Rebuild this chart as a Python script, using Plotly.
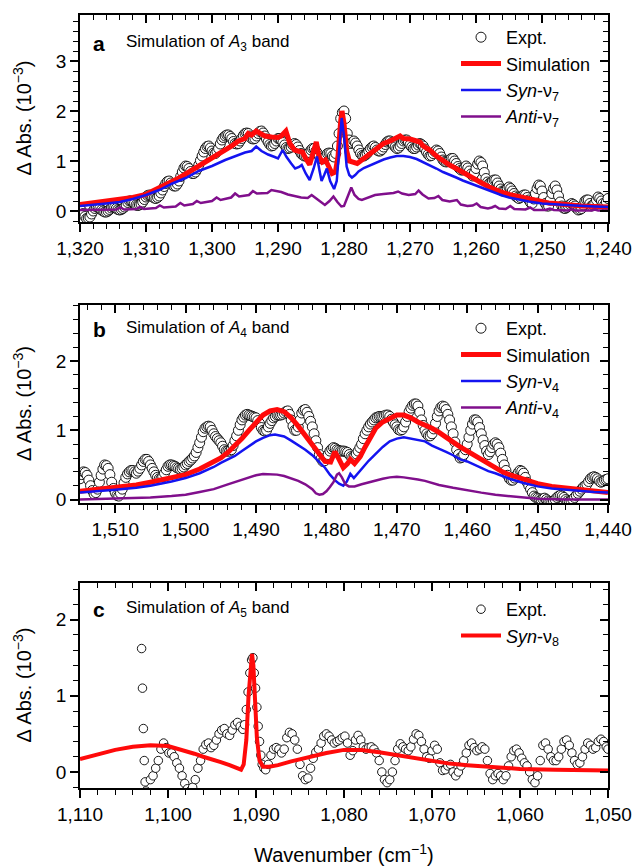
import plotly.graph_objects as go

# ---------------- Panel a (A3 band) ----------------
wn_a_expt = [1320 - 0.25 * i for i in range(321)]
abs_a_expt = [
    0.05, 0.0, -0.05, -0.11, -0.15, -0.14, -0.12, -0.06, 0.0, 0.05, 0.08, 0.07, 0.05, 0.02, 0.0, -0.02, -0.02, 0.0, 0.03, 0.06,
    0.08, 0.07, 0.05, 0.03, 0.02, 0.03, 0.05, 0.08, 0.12, 0.17, 0.2, 0.2, 0.18, 0.15, 0.12, 0.11, 0.12, 0.14, 0.18, 0.23,
    0.28, 0.31, 0.32, 0.3, 0.28, 0.26, 0.25, 0.27, 0.3, 0.36, 0.42, 0.49, 0.55, 0.59, 0.6, 0.56, 0.52, 0.5, 0.5, 0.54,
    0.6, 0.69, 0.78, 0.86, 0.9, 0.89, 0.85, 0.79, 0.75, 0.75, 0.78, 0.84, 0.92, 1.01, 1.1, 1.18, 1.25, 1.29, 1.3, 1.26,
    1.2, 1.16, 1.15, 1.19, 1.25, 1.34, 1.42, 1.47, 1.5, 1.52, 1.52, 1.49, 1.45, 1.39, 1.35, 1.34, 1.35, 1.4, 1.45, 1.51,
    1.55, 1.56, 1.55, 1.5, 1.45, 1.44, 1.45, 1.5, 1.55, 1.59, 1.6, 1.56, 1.5, 1.44, 1.38, 1.33, 1.3, 1.31, 1.35, 1.4,
    1.45, 1.45, 1.42, 1.37, 1.32, 1.27, 1.25, 1.26, 1.28, 1.32, 1.35, 1.33, 1.28, 1.21, 1.15, 1.12, 1.1, 1.1, 1.12, 1.17,
    1.22, 1.25, 1.25, 1.2, 1.15, 1.09, 1.05, 1.04, 1.05, 1.1, 1.15, 1.16, 1.15, 1.1, 1.08, 1.15, 1.3, 1.55, 1.85, 1.97,
    2.0, 1.85, 1.55, 1.42, 1.35, 1.37, 1.4, 1.36, 1.3, 1.22, 1.15, 1.11, 1.1, 1.12, 1.15, 1.2, 1.25, 1.28, 1.3, 1.27,
    1.22, 1.2, 1.2, 1.23, 1.28, 1.33, 1.38, 1.4, 1.4, 1.37, 1.32, 1.28, 1.25, 1.26, 1.3, 1.35, 1.4, 1.42, 1.42, 1.38,
    1.32, 1.28, 1.25, 1.25, 1.28, 1.32, 1.35, 1.33, 1.3, 1.24, 1.18, 1.13, 1.1, 1.11, 1.15, 1.19, 1.22, 1.2, 1.15, 1.08,
    1.02, 0.99, 0.98, 0.99, 1.02, 1.05, 1.05, 1.0, 0.95, 0.89, 0.85, 0.82, 0.82, 0.86, 0.9, 0.86, 0.8, 0.74, 0.7, 0.76,
    0.85, 0.94, 1.0, 0.97, 0.9, 0.77, 0.65, 0.58, 0.55, 0.57, 0.6, 0.62, 0.62, 0.56, 0.5, 0.44, 0.4, 0.4, 0.42, 0.45,
    0.48, 0.45, 0.4, 0.35, 0.3, 0.27, 0.25, 0.27, 0.3, 0.32, 0.32, 0.27, 0.22, 0.17, 0.15, 0.24, 0.35, 0.45, 0.52, 0.5,
    0.4, 0.27, 0.15, 0.1, 0.1, 0.22, 0.35, 0.45, 0.5, 0.42, 0.3, 0.18, 0.1, 0.06, 0.05, 0.07, 0.1, 0.13, 0.15, 0.13,
    0.1, 0.05, 0.02, 0.03, 0.05, 0.12, 0.2, 0.22, 0.22, 0.15, 0.1, 0.12, 0.15, 0.22, 0.28, 0.25, 0.2, 0.15, 0.12, 0.18,
    0.25,
]

wn_a_sim = [1320, 1318, 1316, 1314, 1313, 1312, 1311, 1310, 1309, 1308, 1307, 1306, 1305,
            1304, 1303, 1302, 1301, 1300, 1299, 1298, 1297, 1296, 1295, 1294.5, 1294,
            1293.3, 1292.5, 1292, 1291, 1290, 1289.5, 1288.8, 1288.2, 1287.5, 1287, 1286.3,
            1285.8, 1285.2, 1284.6, 1284.2, 1283.8, 1283.3, 1282.8, 1282.3, 1281.8, 1281.3,
            1280.9, 1280.5, 1280.3, 1280.0, 1279.6, 1279.2, 1278.6, 1278, 1277.5, 1277, 1276,
            1275, 1274, 1273, 1272, 1271.5, 1271, 1270, 1269, 1268.5, 1268, 1267, 1266, 1265,
            1264, 1263, 1262, 1261, 1260, 1259, 1258, 1257, 1256, 1255, 1254, 1253, 1252,
            1251, 1250, 1249, 1248, 1246, 1244, 1242, 1240]
abs_a_sim = [0.13, 0.16, 0.19, 0.22, 0.26, 0.27, 0.3, 0.33, 0.4, 0.46, 0.52, 0.6, 0.66,
             0.74, 0.82, 0.9, 0.98, 1.04, 1.12, 1.22, 1.3, 1.4, 1.45, 1.55, 1.52,
             1.6, 1.55, 1.5, 1.48, 1.47, 1.5, 1.6, 1.35, 1.22, 1.2, 1.18,
             1.05, 0.93, 1.2, 1.38, 1.1, 0.98, 1.02, 0.88, 0.75, 0.78,
             1.1, 1.8, 2.0, 1.75, 1.2, 1.0, 0.98, 0.95, 1.0, 1.05, 1.15,
             1.25, 1.35, 1.4, 1.48, 1.5, 1.45, 1.44, 1.4, 1.38, 1.3, 1.22, 1.1, 1.0,
             0.92, 0.85, 0.77, 0.7, 0.62, 0.55, 0.48, 0.42, 0.37, 0.33, 0.3, 0.26, 0.23,
             0.2, 0.18, 0.16, 0.15, 0.12, 0.1, 0.09, 0.08]

wn_a_syn = [1320, 1318, 1316, 1314, 1312, 1310, 1308, 1306, 1304, 1302, 1300, 1298, 1296,
            1295, 1294, 1293.3, 1292.5, 1291.5, 1290.5, 1290, 1289.3, 1288.7, 1288, 1287.4,
            1286.8, 1286.4, 1285.8, 1285.2, 1284.6, 1284.1, 1283.7, 1283.4, 1283, 1282.6,
            1282.1, 1281.5, 1281.1, 1280.7, 1280.35, 1280.0, 1279.6, 1279.2, 1278.8, 1278.3,
            1277.8, 1277, 1276, 1275, 1274, 1273, 1272, 1271, 1270, 1269, 1268, 1267, 1266,
            1265, 1264, 1263, 1262, 1261, 1260, 1259, 1258, 1257, 1256, 1255, 1254, 1253,
            1252, 1250, 1248, 1245, 1242, 1240]
abs_a_syn = [0.1, 0.12, 0.15, 0.18, 0.24, 0.32, 0.42, 0.55, 0.66, 0.8, 0.9, 1.02, 1.12,
             1.17, 1.2, 1.29, 1.2, 1.13, 1.08, 1.05, 1.22, 1.08, 0.95, 0.85,
             0.88, 0.92, 0.75, 0.62, 0.85, 1.09, 0.8, 0.6, 0.72, 0.85,
             0.6, 0.44, 0.6, 1.3, 1.86, 1.5, 0.89, 0.72, 0.67, 0.72,
             0.79, 0.86, 0.92, 0.98, 1.03, 1.07, 1.1, 1.1, 1.08, 1.04, 0.98, 0.92, 0.85,
             0.78, 0.73, 0.67, 0.61, 0.56, 0.51, 0.46, 0.4, 0.36, 0.31, 0.27, 0.24, 0.21,
             0.19, 0.15, 0.13, 0.11, 0.09, 0.08]

wn_a_anti = [1320, 1318, 1316, 1314.5, 1313.9, 1313.3, 1311.5, 1310.9, 1310.3, 1308.5, 1307.9,
             1307.3, 1305.5, 1304.8, 1304.2, 1302.9, 1302.3, 1301.7, 1300, 1299.3, 1298.7,
             1297.1, 1296.5, 1295.9, 1294.4, 1293.8, 1293.2, 1291.6, 1291, 1290.4, 1289.5,
             1288.5, 1287.5, 1286.5, 1285.5, 1284.9, 1284.3, 1283.5, 1282.9, 1282.2, 1281.6,
             1281.0, 1280.4, 1280.0, 1279.4, 1278.9, 1278.4, 1277.8, 1277.3, 1276.5, 1275.3,
             1274, 1272.5, 1271.8, 1271.2, 1270.2, 1269.2, 1268.7, 1268.1, 1267.2, 1266.3,
             1265.7, 1265.1, 1264, 1262.9, 1262.3, 1261.3, 1260.5, 1259.9, 1259.3, 1258.2,
             1257.6, 1257.1, 1256.5, 1255.5, 1254.8, 1254.2, 1252.5, 1251.8, 1251.2, 1249.5,
             1248.8, 1248.2, 1246, 1245.5, 1245, 1242.5, 1242, 1241.5, 1240]
abs_a_anti = [0.02, 0.02, 0.03, 0.03, 0.07, 0.03, 0.04, 0.08, 0.04, 0.06, 0.11,
              0.07, 0.09, 0.16, 0.11, 0.14, 0.2, 0.16, 0.2, 0.27, 0.22,
              0.27, 0.35, 0.29, 0.32, 0.4, 0.35, 0.36, 0.42, 0.4, 0.38,
              0.33, 0.3, 0.27, 0.26, 0.32, 0.26, 0.18, 0.12, 0.2, 0.29,
              0.18, 0.09, 0.1, 0.3, 0.47, 0.32, 0.24, 0.22, 0.26, 0.32,
              0.34, 0.36, 0.39, 0.35, 0.32, 0.34, 0.41, 0.33, 0.25, 0.26,
              0.3, 0.22, 0.19, 0.22, 0.13, 0.1, 0.11, 0.15, 0.08, 0.05,
              0.07, 0.1, 0.05, 0.04, 0.1, 0.04, 0.03, 0.07, 0.02, 0.02,
              0.05, 0.02, 0.01, 0.04, 0.01, 0.01, 0.03, 0.01, 0.01]

# ---------------- Panel b (A4 band) ----------------
wn_b_expt = [1515 - 0.25 * i for i in range(301)]
abs_b_expt = [
    0.3, 0.36, 0.4, 0.39, 0.35, 0.28, 0.2, 0.13, 0.08, 0.1, 0.15, 0.25, 0.35, 0.44, 0.5, 0.49, 0.45, 0.36, 0.25, 0.16,
    0.1, 0.06, 0.05, 0.09, 0.15, 0.24, 0.32, 0.37, 0.4, 0.42, 0.42, 0.4, 0.38, 0.41, 0.45, 0.5, 0.55, 0.58, 0.58, 0.55,
    0.5, 0.45, 0.4, 0.35, 0.32, 0.3, 0.3, 0.33, 0.38, 0.43, 0.48, 0.5, 0.5, 0.49, 0.48, 0.46, 0.45, 0.44, 0.45, 0.47,
    0.5, 0.52, 0.55, 0.57, 0.6, 0.63, 0.68, 0.75, 0.82, 0.9, 0.98, 1.03, 1.05, 1.06, 1.05, 1.0, 0.95, 0.91, 0.88, 0.85,
    0.82, 0.77, 0.72, 0.7, 0.7, 0.7, 0.72, 0.78, 0.85, 0.92, 1.0, 1.08, 1.15, 1.19, 1.22, 1.23, 1.22, 1.21, 1.2, 1.19,
    1.18, 1.14, 1.1, 1.04, 1.0, 0.99, 1.0, 1.05, 1.1, 1.14, 1.18, 1.2, 1.22, 1.22, 1.22, 1.23, 1.25, 1.27, 1.28, 1.23,
    1.15, 1.06, 1.0, 1.0, 1.05, 1.15, 1.25, 1.29, 1.3, 1.26, 1.2, 1.13, 1.05, 0.95, 0.85, 0.75, 0.65, 0.59, 0.55, 0.56,
    0.6, 0.65, 0.7, 0.73, 0.75, 0.74, 0.72, 0.71, 0.7, 0.7, 0.7, 0.69, 0.68, 0.65, 0.62, 0.61, 0.62, 0.66, 0.7, 0.75,
    0.8, 0.88, 0.95, 1.0, 1.05, 1.09, 1.12, 1.15, 1.18, 1.19, 1.2, 1.2, 1.2, 1.21, 1.22, 1.22, 1.2, 1.16, 1.12, 1.08,
    1.05, 1.01, 1.0, 1.01, 1.05, 1.12, 1.2, 1.27, 1.32, 1.36, 1.38, 1.38, 1.35, 1.26, 1.15, 1.07, 1.0, 0.95, 0.92, 0.92,
    0.95, 1.02, 1.1, 1.2, 1.28, 1.33, 1.35, 1.34, 1.3, 1.23, 1.15, 1.05, 0.95, 0.83, 0.72, 0.65, 0.6, 0.61, 0.65, 0.72,
    0.8, 0.9, 1.0, 1.09, 1.15, 1.15, 1.12, 1.04, 0.95, 0.86, 0.78, 0.7, 0.65, 0.69, 0.75, 0.8, 0.82, 0.8, 0.75, 0.67,
    0.58, 0.5, 0.42, 0.35, 0.3, 0.28, 0.28, 0.31, 0.35, 0.39, 0.42, 0.41, 0.38, 0.32, 0.25, 0.2, 0.15, 0.1, 0.05, 0.03,
    0.02, 0.01, 0.0, 0.01, 0.02, 0.0, -0.02, -0.03, -0.04, -0.02, 0.0, 0.03, 0.05, 0.06, 0.05, 0.03, 0.0, -0.02, -0.03, -0.02,
    0.0, 0.03, 0.06, 0.09, 0.12, 0.15, 0.18, 0.2, 0.22, 0.26, 0.3, 0.32, 0.33, 0.32, 0.3, 0.27, 0.25, 0.26, 0.28, 0.29,
    0.3,
]

wn_b_sim = [1515, 1512, 1510, 1507, 1505, 1502, 1500, 1498, 1497, 1496, 1495, 1494, 1493,
            1492, 1491, 1490, 1489, 1488, 1487, 1486, 1485, 1484, 1483, 1482, 1481, 1480.2,
            1479.4, 1478.8, 1478.2, 1477.6, 1477.0, 1476.6, 1476.0, 1475.2, 1474.5, 1474,
            1473, 1472, 1471, 1470, 1469, 1468, 1467, 1466, 1465, 1464, 1463, 1462, 1461,
            1460, 1459, 1458, 1457, 1456, 1455, 1454, 1452, 1450, 1448, 1445, 1442, 1440]
abs_b_sim = [0.12, 0.15, 0.17, 0.21, 0.25, 0.31, 0.36, 0.44, 0.49, 0.54, 0.6, 0.68, 0.77,
             0.88, 1.0, 1.12, 1.22, 1.28, 1.3, 1.27, 1.18, 1.06, 0.92, 0.78, 0.64, 0.55,
             0.54, 0.69, 0.58, 0.46, 0.52, 0.58, 0.52, 0.62, 0.76, 0.86,
             1.03, 1.12, 1.18, 1.22, 1.22, 1.18, 1.12, 1.08, 1.03, 0.97, 0.91, 0.83, 0.76,
             0.7, 0.63, 0.56, 0.5, 0.45, 0.4, 0.36, 0.29, 0.23, 0.19, 0.15, 0.12, 0.1]

wn_b_syn = [1515, 1512, 1510, 1507, 1505, 1502, 1500, 1498, 1496, 1495, 1494, 1493, 1492,
            1491, 1490, 1489, 1488, 1487.3, 1486, 1485, 1484, 1483, 1482, 1481, 1480.2,
            1479.5, 1478.8, 1478.2, 1477.6, 1477.1, 1476.6, 1476.1, 1475.5, 1475, 1474,
            1473, 1472, 1471, 1470, 1469, 1468, 1467, 1466, 1465, 1464, 1463, 1462, 1461,
            1460, 1459, 1458, 1457, 1456, 1455, 1454, 1452, 1450, 1448, 1445, 1442, 1440]
abs_b_syn = [0.1, 0.12, 0.14, 0.17, 0.2, 0.26, 0.31, 0.38, 0.47, 0.53, 0.58, 0.63, 0.7,
             0.77, 0.84, 0.89, 0.93, 0.94, 0.91, 0.85, 0.79, 0.72, 0.64, 0.54, 0.46,
             0.36, 0.28, 0.23, 0.2, 0.26, 0.37, 0.31, 0.38, 0.44, 0.56,
             0.66, 0.76, 0.84, 0.88, 0.9, 0.88, 0.86, 0.84, 0.78, 0.74, 0.69, 0.64, 0.58,
             0.55, 0.5, 0.46, 0.41, 0.38, 0.34, 0.3, 0.24, 0.19, 0.16, 0.13, 0.11, 0.1]

wn_b_anti = [1515, 1510, 1505, 1502, 1500, 1498, 1496, 1494, 1492, 1490, 1489, 1488, 1487,
             1486, 1485, 1484, 1483, 1482, 1481.5, 1481, 1480.5, 1480, 1479.5, 1479, 1478.5,
             1478.2, 1477.8, 1477.3, 1476.8, 1476, 1475, 1474, 1473, 1472, 1471, 1470, 1469,
             1468, 1467, 1466, 1465, 1464, 1462, 1460, 1458, 1456, 1454, 1452, 1450, 1446, 1440]
abs_b_anti = [0.0, 0.01, 0.03, 0.05, 0.07, 0.11, 0.15, 0.22, 0.29, 0.35, 0.37, 0.37, 0.36,
              0.34, 0.31, 0.27, 0.22, 0.15, 0.09, 0.07, 0.08, 0.12, 0.18, 0.25, 0.36,
              0.38, 0.32, 0.22, 0.19, 0.19, 0.22, 0.25, 0.28, 0.3, 0.32, 0.33, 0.32,
              0.31, 0.29, 0.27, 0.24, 0.21, 0.17, 0.13, 0.1, 0.07, 0.05, 0.03, 0.01, 0.0, 0.0]

# ---------------- Panel c (A5 band) ----------------
wn_c_expt = [1103.0, 1102.9, 1102.8, 1102.7, 1102.6, 1102.5, 1102.0, 1101.7, 1101.4, 1101.1,
             1100.8, 1100.5, 1100.2, 1099.9, 1099.6, 1099.3, 1099.0, 1098.7, 1098.4, 1098.1,
             1097.8, 1097.5, 1097.2, 1096.9, 1096.6, 1096.3, 1096.0, 1095.7, 1095.4, 1095.1,
             1094.8, 1094.5, 1094.2, 1093.9, 1093.6, 1093.3, 1093.0, 1092.7, 1092.4, 1092.1,
             1091.8, 1091.5, 1091.3, 1091.1, 1090.9, 1090.7, 1090.5, 1090.35, 1090.2, 1090.05,
             1089.9, 1089.75, 1089.6, 1089.45, 1089.3, 1089.1, 1088.9, 1088.6, 1088.3, 1088.0,
             1087.7, 1087.4, 1087.1, 1086.8, 1086.5, 1086.2, 1085.9, 1085.6, 1085.3, 1085.0,
             1084.7, 1084.4, 1084.1, 1083.8, 1083.5, 1083.2, 1082.9, 1082.6, 1082.3, 1082.0,
             1081.7, 1081.4, 1081.1, 1080.8, 1080.5, 1080.2, 1079.9, 1079.6, 1079.3, 1079.0,
             1078.7, 1078.4, 1078.1, 1077.8, 1077.5, 1077.2, 1076.9, 1076.6, 1076.3, 1076.0,
             1075.7, 1075.4, 1075.1, 1074.8, 1074.5, 1074.2, 1073.9, 1073.6, 1073.3, 1073.0,
             1072.7, 1072.4, 1072.1, 1071.8, 1071.5, 1071.2, 1070.9, 1070.6, 1070.3, 1070.0,
             1069.7, 1069.4, 1069.1, 1068.8, 1068.5, 1068.2, 1067.9, 1067.6, 1067.3, 1067.0,
             1066.7, 1066.4, 1066.1, 1065.8, 1065.5, 1065.2, 1064.9, 1064.6, 1064.3, 1064.0,
             1063.7, 1063.4, 1063.1, 1062.8, 1062.5, 1062.2, 1061.9, 1061.6, 1061.3, 1061.0,
             1060.7, 1060.4, 1060.1, 1059.8, 1059.5, 1059.2, 1058.9, 1058.6, 1058.3, 1058.0,
             1057.7, 1057.4, 1057.1, 1056.8, 1056.5, 1056.2, 1055.9, 1055.6, 1055.3, 1055.0,
             1054.7, 1054.4, 1054.1, 1053.8, 1053.5, 1053.2, 1052.9, 1052.6, 1052.3, 1052.0,
             1051.7, 1051.4, 1051.1, 1050.8, 1050.5, 1050.2, 1050.0]
abs_c_expt = [1.62, 1.1, 0.57, 0.15, -0.13, -0.25, -0.1, -0.05, 0.05, 0.15,
              0.3, 0.38, 0.32, 0.25, 0.25, 0.2, 0.12, 0.05, -0.05, -0.15,
              -0.22, -0.25, -0.2, -0.1, 0.05, 0.15, 0.3, 0.36, 0.38, 0.32,
              0.35, 0.42, 0.5, 0.55, 0.57, 0.5, 0.48, 0.55, 0.62, 0.65,
              0.6, 0.56, 0.62, 0.82, 1.05, 1.3, 1.47, 1.5, 1.3, 1.1,
              0.85, 0.6, 0.4, 0.22, 0.1, 0.05, 0.03, 0.1, 0.22, 0.3,
              0.32, 0.3, 0.25, 0.3, 0.45, 0.52, 0.5, 0.42, 0.3, 0.1,
              -0.05, -0.1, -0.08, 0.05, 0.18, 0.26, 0.3, 0.38, 0.47, 0.5,
              0.47, 0.42, 0.38, 0.4, 0.42, 0.45, 0.47, 0.38, 0.22, 0.28,
              0.42, 0.48, 0.42, 0.33, 0.3, 0.32, 0.33, 0.3, 0.25, 0.15,
              0.0, -0.1, -0.14, -0.1, 0.0, 0.15, 0.3, 0.37, 0.33, 0.3,
              0.28, 0.33, 0.43, 0.5, 0.48, 0.4, 0.3, 0.2, 0.18, 0.28,
              0.35, 0.3, 0.12, 0.02, 0.03, 0.08, 0.1, 0.0, -0.05, 0.0,
              0.08, 0.15, 0.25, 0.35, 0.38, 0.32, 0.28, 0.3, 0.33, 0.3,
              0.15, -0.02, -0.1, -0.05, -0.02, -0.05, -0.1, -0.05, 0.08, 0.2,
              0.28, 0.3, 0.25, 0.18, 0.12, 0.08, 0.0, -0.1, -0.14, -0.05,
              0.15, 0.35, 0.38, 0.3, 0.2, 0.15, 0.15, 0.2, 0.3, 0.4,
              0.42, 0.35, 0.25, 0.15, 0.1, 0.12, 0.2, 0.3, 0.38, 0.35,
              0.3, 0.32, 0.4, 0.43, 0.4, 0.33, 0.3]

wn_c_syn = [1110, 1108, 1106, 1104, 1102, 1100, 1099, 1098, 1097, 1096, 1095, 1094, 1093,
            1092.2, 1091.7, 1091.4, 1091.1, 1090.85, 1090.6, 1090.45, 1090.3, 1090.1, 1089.9,
            1089.6, 1089.2, 1088.5, 1087.5, 1086, 1084, 1082, 1080, 1078, 1076, 1074, 1072,
            1070, 1068, 1066, 1064, 1062, 1060, 1056, 1050]
abs_c_syn = [0.17, 0.23, 0.29, 0.33, 0.35, 0.34, 0.31, 0.28, 0.24, 0.2, 0.17, 0.13, 0.09,
             0.05, 0.03, 0.1, 0.42, 1.0, 1.45, 1.55, 1.4, 0.9, 0.45,
             0.15, 0.07, 0.07, 0.09, 0.14, 0.2, 0.25, 0.29, 0.29, 0.26, 0.22, 0.18,
             0.14, 0.11, 0.09, 0.07, 0.05, 0.04, 0.03, 0.02]

# ---------------- styling ----------------
FONT = "Liberation Sans, Arial, Helvetica, sans-serif"
RED = "#ff0a0a"
BLUE = "#1414f0"
PURPLE = "#800f8c"
W, H = 635, 867
X0, X1 = 80 / W, 608 / W


def ydom(top, bottom):
    return [1 - bottom / H, 1 - top / H]


panels = [
    dict(xr=[1320, 1240], yr=[-0.22, 3.92], dom=ydom(15, 222)),
    dict(xr=[1515, 1440], yr=[-0.05, 2.81], dom=ydom(305, 503)),
    dict(xr=[1110, 1050], yr=[-0.21, 2.48], dom=ydom(583, 788)),
]

fig = go.Figure()


def expt_trace(x, y, i, leg, size):
    return go.Scatter(x=x, y=y, mode="markers", name="Expt.",
                      marker=dict(symbol="circle", size=size, color="white",
                                  line=dict(color="black", width=0.9)),
                      xaxis=f"x{i}", yaxis=f"y{i}", legend=leg,
                      legendgroup=f"e{i}", hoverinfo="skip")


def line_trace(x, y, i, leg, name, color, width, grp):
    return go.Scatter(x=x, y=y, mode="lines", name=name,
                      line=dict(color=color, width=width),
                      xaxis=f"x{i}", yaxis=f"y{i}", legend=leg,
                      legendgroup=grp, hoverinfo="skip")


fig.add_trace(expt_trace(wn_a_expt, abs_a_expt, 1, "legend", 10))
fig.add_trace(line_trace(wn_a_sim, abs_a_sim, 1, "legend", "Simulation", RED, 5, "s1"))
fig.add_trace(line_trace(wn_a_syn, abs_a_syn, 1, "legend", "<i>Syn</i>-ν<sub>7</sub>", BLUE, 2.5, "y1"))
fig.add_trace(line_trace(wn_a_anti, abs_a_anti, 1, "legend", "<i>Anti</i>-ν<sub>7</sub>", PURPLE, 2.5, "a1"))

fig.add_trace(expt_trace(wn_b_expt, abs_b_expt, 2, "legend2", 10))
fig.add_trace(line_trace(wn_b_sim, abs_b_sim, 2, "legend2", "Simulation", RED, 5, "s2"))
fig.add_trace(line_trace(wn_b_syn, abs_b_syn, 2, "legend2", "<i>Syn</i>-ν<sub>4</sub>", BLUE, 2.5, "y2"))
fig.add_trace(line_trace(wn_b_anti, abs_b_anti, 2, "legend2", "<i>Anti</i>-ν<sub>4</sub>", PURPLE, 2.5, "a2"))

fig.add_trace(expt_trace(wn_c_expt, abs_c_expt, 3, "legend3", 8.5))
fig.add_trace(line_trace(wn_c_syn, abs_c_syn, 3, "legend3", "<i>Syn</i>-ν<sub>8</sub>", RED, 4, "y3"))

tickfont = dict(family=FONT, size=19, color="black")
layout = dict(
    width=W, height=H, margin=dict(l=0, r=0, t=0, b=0, autoexpand=False),
    paper_bgcolor="white", plot_bgcolor="white",
    font=dict(family=FONT, color="black"),
    annotations=[],
)

for k, p in enumerate(panels, start=1):
    xa = dict(domain=[X0, X1], range=p["xr"], anchor=f"y{k}",
              showgrid=False, zeroline=False, showline=True, linecolor="black", linewidth=1.5,
              ticks="outside", ticklen=8, tickwidth=1.5, tickcolor="black",
              dtick=10, tick0=1000, tickformat=",d", tickfont=tickfont, automargin=False,
              minor=dict(dtick=2, tick0=1000, ticks="outside", ticklen=5, tickwidth=1.2,
                         tickcolor="black", showgrid=False))
    ya = dict(domain=p["dom"], range=p["yr"], anchor=f"x{k}",
              showgrid=False, zeroline=False, showline=True, linecolor="black", linewidth=1.5,
              ticks="outside", ticklen=8, tickwidth=1.5, tickcolor="black",
              dtick=1, tick0=0, tickfont=tickfont, automargin=False,
              minor=dict(dtick=0.2, tick0=0, ticks="outside", ticklen=5, tickwidth=1.2,
                         tickcolor="black", showgrid=False))
    xt = dict(overlaying=f"x{k}", side="top", anchor=f"y{k}", range=p["xr"],
              showgrid=False, zeroline=False, showline=True, linecolor="black", linewidth=1.5,
              ticks="inside", ticklen=8, tickwidth=1.5, tickcolor="black",
              dtick=10, tick0=1000, showticklabels=False, automargin=False,
              minor=dict(dtick=2, tick0=1000, ticks="inside", ticklen=5, tickwidth=1.2,
                         tickcolor="black", showgrid=False))
    yr = dict(overlaying=f"y{k}", side="right", anchor=f"x{k}", range=p["yr"],
              showgrid=False, zeroline=False, showline=True, linecolor="black", linewidth=1.5,
              ticks="inside", ticklen=8, tickwidth=1.5, tickcolor="black",
              dtick=1, tick0=0, showticklabels=False, automargin=False,
              minor=dict(dtick=0.2, tick0=0, ticks="inside", ticklen=5, tickwidth=1.2,
                         tickcolor="black", showgrid=False))
    layout[f"xaxis{k}"] = xa
    layout[f"yaxis{k}"] = ya
    layout[f"xaxis{k + 3}"] = xt
    layout[f"yaxis{k + 3}"] = yr
    ymid = (p["dom"][0] + p["dom"][1]) / 2
    layout["annotations"].append(dict(
        text="Δ Abs. (10<sup>−3</sup>)", xref="paper", yref="paper", x=22 / W, y=ymid,
        textangle=-90, showarrow=False, xanchor="center", yanchor="middle",
        font=dict(family=FONT, size=20, color="black")))

# invisible helpers so the mirrored frame axes render
for k in range(1, 4):
    fig.add_trace(go.Scatter(x=[None], y=[None], xaxis=f"x{k + 3}", yaxis=f"y{k}",
                             showlegend=False, hoverinfo="skip"))
    fig.add_trace(go.Scatter(x=[None], y=[None], xaxis=f"x{k}", yaxis=f"y{k + 3}",
                             showlegend=False, hoverinfo="skip"))

panel_labels = [("a", "Simulation of <i>A</i><sub>3</sub> band", 43),
                ("b", "Simulation of <i>A</i><sub>4</sub> band", 329),
                ("c", "Simulation of <i>A</i><sub>5</sub> band", 609)]
for letter, txt, ypix in panel_labels:
    layout["annotations"].append(dict(
        text=f"<b>{letter}</b>", xref="paper", yref="paper", x=99 / W, y=1 - ypix / H,
        showarrow=False, xanchor="center", yanchor="middle",
        font=dict(family=FONT, size=21, color="black")))
    layout["annotations"].append(dict(
        text=txt, xref="paper", yref="paper", x=124 / W, y=1 - ypix / H,
        showarrow=False, xanchor="left", yanchor="middle",
        font=dict(family=FONT, size=17, color="black")))

layout["annotations"].append(dict(
    text="Wavenumber (cm<sup>−1</sup>)", xref="paper", yref="paper", x=344 / W, y=1 - 853 / H,
    showarrow=False, xanchor="center", yanchor="middle",
    font=dict(family=FONT, size=20, color="black")))

leg_common = dict(xanchor="left", yanchor="top", bgcolor="rgba(0,0,0,0)",
                  font=dict(family=FONT, size=18, color="black"),
                  traceorder="grouped", tracegroupgap=0, itemwidth=40)
layout["legend"] = dict(x=456 / W, y=1 - 19 / H, **leg_common)
layout["legend2"] = dict(x=456 / W, y=1 - 310 / H, **leg_common)
layout["legend3"] = dict(x=456 / W, y=1 - 591 / H, **leg_common)
layout["showlegend"] = True

fig.update_layout(**layout)

page_fix = ("document.documentElement.style.margin='0';document.body.style.margin='0';"
            "document.body.style.padding='0';document.documentElement.style.overflow='hidden';"
            "document.body.style.overflow='hidden';")
fig.write_html("out.html", post_script=page_fix, config={"displayModeBar": False})
